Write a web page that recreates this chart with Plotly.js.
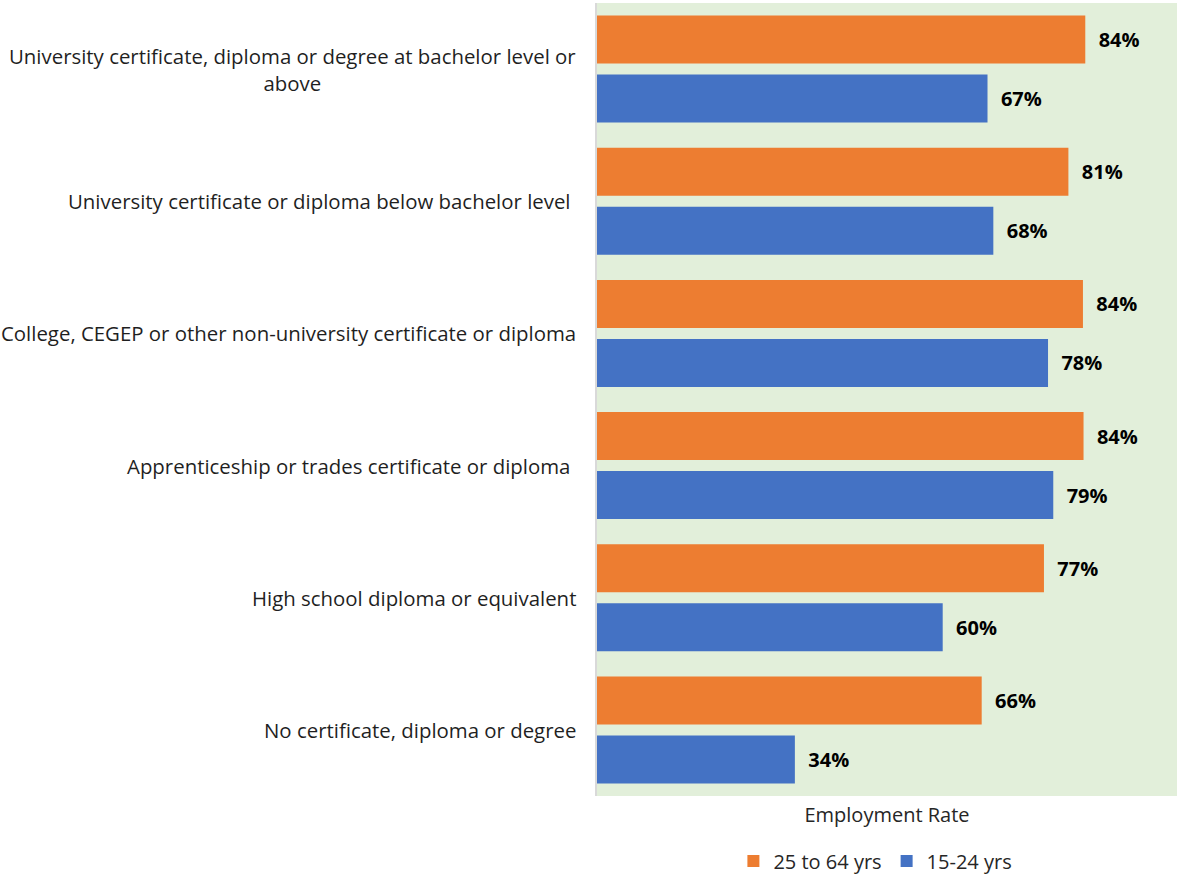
<!DOCTYPE html>
<html>
<head>
<meta charset="utf-8">
<script src="https://cdn.plot.ly/plotly-3.0.1.min.js"></script>
<style>html,body{margin:0;padding:0;background:#fff;}#chart{width:1177px;height:875px;}</style>
</head>
<body>
<div id="chart"></div>
<script>
const categories = [
  "University certificate, diploma or degree at bachelor level or<br>above",
  "University certificate or diploma below bachelor level ",
  "College, CEGEP or other non-university certificate or diploma",
  "Apprenticeship or trades certificate or diploma ",
  "High school diploma or equivalent",
  "No certificate, diploma or degree"
];
const seriesNames = ["25 to 64 yrs", "15-24 yrs"];
const values25to64 = [83.9, 81.0, 83.5, 83.6, 76.8, 66.1];
const values15to24 = [67.1, 68.1, 77.5, 78.4, 59.4, 34.0];
const labels25to64 = ["84%", "81%", "84%", "84%", "77%", "66%"];
const labels15to24 = ["67%", "68%", "78%", "79%", "60%", "34%"];

const FONT = "'Open Sans', Carlito, Calibri, sans-serif";
const ORANGE = "#ED7D31";
const BLUE = "#4472C4";

function barTrace(name, vals, labels, color) {
  return {
    type: "bar",
    orientation: "h",
    name: name,
    y: categories,
    x: vals,
    text: labels.map(t => "\u00a0\u00a0" + t),
    texttemplate: "%{text}",
    textposition: "outside",
    constraintext: "none",
    cliponaxis: false,
    textfont: {family: FONT, size: 20, color: "#000000", weight: "bold"},
    marker: {color: color, line: {width: 0}},
    hoverinfo: "none"
  };
}

const data = [
  barTrace(seriesNames[0], values25to64, labels25to64, ORANGE),
  barTrace(seriesNames[1], values15to24, labels15to24, BLUE)
];

const annotations = categories.map(c => ({
  xref: "paper", yref: "y",
  x: 0, y: c,
  xanchor: "right", yanchor: "middle",
  xshift: -19,
  align: "center",
  showarrow: false,
  text: c.replace(/ $/, "\u00a0"),
  font: {family: FONT, size: 20.4, color: "#1f1f1f"}
}));

const layout = {
  width: 1177, height: 875,
  margin: {l: 597, r: 0, t: 3, b: 79, autoexpand: false},
  paper_bgcolor: "#ffffff",
  plot_bgcolor: "#E2EFDA",
  barmode: "group",
  bargap: 0.107,
  bargroupgap: 0.186,
  showlegend: true,
  legend: {
    orientation: "h",
    x: 0.48, xanchor: "center",
    y: -0.082, yanchor: "middle",
    font: {family: FONT, size: 20, color: "#262626"},
    itemwidth: 30,
    traceorder: "normal"
  },
  xaxis: {
    range: [0, 99.66],
    showgrid: false, zeroline: false,
    showticklabels: false, ticks: "",
    showline: false,
    title: {text: "Employment Rate", font: {family: FONT, size: 20, color: "#262626"}, standoff: 11}
  },
  yaxis: {
    autorange: "reversed",
    showticklabels: false, ticks: "",
    showgrid: false, zeroline: false,
    showline: true, linecolor: "#D9D9D9", linewidth: 2
  },
  annotations: annotations
};

Plotly.newPlot("chart", data, layout, {displayModeBar: false, staticPlot: true});
</script>
</body>
</html>
